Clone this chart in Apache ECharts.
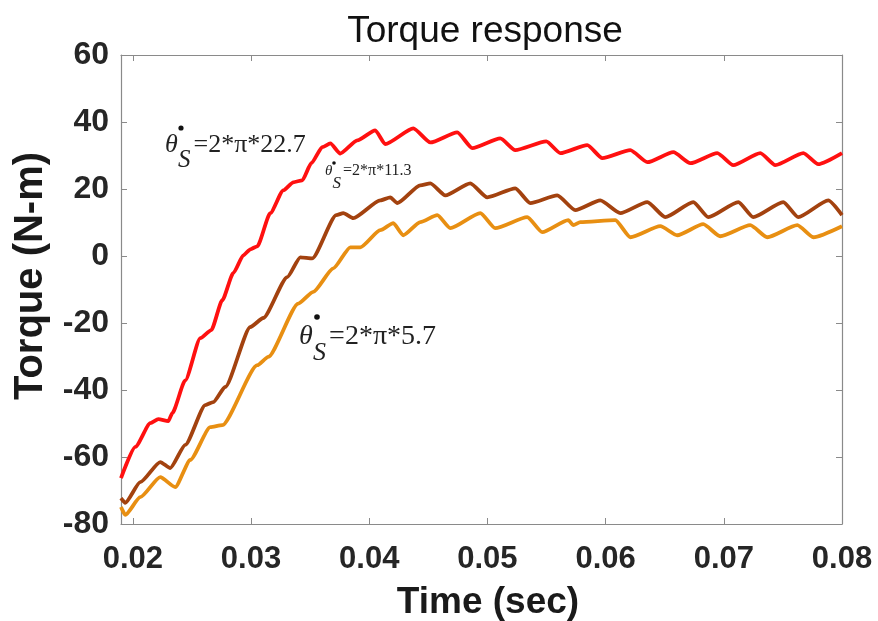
<!DOCTYPE html>
<html>
<head>
<meta charset="utf-8">
<script src="https://cdn.jsdelivr.net/npm/echarts@6/dist/echarts.min.js"></script>
<style>html,body{margin:0;padding:0;background:#fff}#chart{width:878px;height:621px}</style>
</head>
<body>
<div id="chart"></div>
<script>
// ---- data (time in s, torque in N-m) ----
const redT = [0.01900,0.02021,0.02148,0.02216,0.02300,0.02334,0.02444,0.02571,0.02664,0.02757,0.02850,0.02935,0.02994,0.03053,0.03163,0.03273,0.03358,0.03434,0.03510,0.03603,0.03671,0.03755,0.03899,0.04051,0.04136,0.04373,0.04517,0.04745,0.04872,0.05109,0.05236,0.05498,0.05617,0.05845,0.05972,0.06209,0.06353,0.06573,0.06717,0.06945,0.07080,0.07309,0.07436,0.07673,0.07799,0.08000];
const redV = [-66.3,-57.0,-49.9,-48.7,-49.3,-46.9,-37.1,-24.5,-22.1,-13.2,-5.1,0.2,2.0,2.9,12.8,19.6,22.0,22.6,27.7,32.5,33.6,30.6,34.5,37.5,33.4,38.1,33.9,36.9,32.2,35.1,31.6,34.2,30.7,33.1,29.2,31.6,28.0,31.0,27.7,30.7,27.1,30.7,27.1,30.7,27.4,30.7];

const brownT = [0.01900,0.01936,0.02063,0.02232,0.02317,0.02444,0.02613,0.02681,0.02782,0.02994,0.03104,0.03307,0.03417,0.03518,0.03721,0.03781,0.03865,0.04094,0.04178,0.04238,0.04432,0.04517,0.04644,0.04855,0.04999,0.05236,0.05363,0.05591,0.05743,0.05955,0.06124,0.06353,0.06505,0.06742,0.06869,0.07123,0.07249,0.07503,0.07630,0.07884,0.08000];
const brownV = [-72.3,-73.7,-67.5,-61.5,-63.3,-56.4,-44.5,-43.6,-39.1,-21.2,-18.5,-6.3,-0.4,-0.7,12.2,12.8,11.3,16.6,17.5,15.8,21.1,21.7,18.1,21.7,17.5,20.2,15.8,18.1,13.7,16.6,12.8,16.1,11.6,16.1,11.6,16.1,11.6,16.1,11.6,16.6,12.2];

const orangeT = [0.01900,0.01936,0.02063,0.02232,0.02359,0.02486,0.02655,0.02757,0.03053,0.03146,0.03400,0.03527,0.03696,0.03840,0.03925,0.04094,0.04204,0.04288,0.04432,0.04576,0.04686,0.04940,0.05066,0.05337,0.05464,0.05684,0.05727,0.05786,0.06082,0.06209,0.06463,0.06606,0.06826,0.06970,0.07224,0.07368,0.07622,0.07757,0.08000];
const orangeV = [-74.9,-77.3,-72.0,-66.0,-69.0,-60.9,-51.1,-50.5,-32.6,-30.1,-14.2,-10.7,-3.7,2.6,2.6,7.7,9.8,6.2,10.1,12.2,8.3,12.8,8.3,11.6,7.1,10.7,9.2,10.1,10.7,5.6,8.9,6.2,9.5,5.9,9.2,5.6,9.2,5.6,8.9];

const xTicks = [0.02,0.03,0.04,0.05,0.06,0.07,0.08];
const yTicks = [-80,-60,-40,-20,0,20,40,60];

const zip = (t, v) => t.map((x, i) => [x, v[i]]);

const AX = '#8a8a8a';
const LBL = '#262626';
const sans = 'Liberation Sans, Arial, sans-serif';
const serif = 'Liberation Serif, Times New Roman, serif';

function xAxisDef(pos, showLabels) {
  return {
    type: 'value', position: pos, min: 0.019, max: 0.08,
    axisLine: { show: true, onZero: false, lineStyle: { color: AX, width: 1.2 } },
    axisTick: { show: true, inside: true, length: 6, customValues: xTicks, lineStyle: { color: AX } },
    axisLabel: { show: showLabels, customValues: xTicks, margin: 20, color: LBL, fontFamily: sans, fontWeight: 'bold', fontSize: 31,
      formatter: v => v.toFixed(2) },
    splitLine: { show: false }
  };
}
function yAxisDef(pos, showLabels) {
  return {
    type: 'value', position: pos, min: -80, max: 60, interval: 20,
    axisLine: { show: true, onZero: false, lineStyle: { color: AX, width: 1.2 } },
    axisTick: { show: true, inside: true, length: 6, lineStyle: { color: AX } },
    axisLabel: { show: showLabels, margin: 12, color: LBL, fontFamily: sans, fontWeight: 'bold', fontSize: 32,
      formatter: v => String(yTicks[yTicks.indexOf(v)] ?? v) },
    splitLine: { show: false }
  };
}

function label(x, y, sym, sub, rest, fs, subFs, restFs, subDy, dot) {
  return [
    { type: 'text', x: x, y: y, style: { text: sym, font: 'italic ' + fs + 'px ' + serif, fill: '#222', verticalAlign: 'middle' } },
    { type: 'circle', shape: { cx: dot[0], cy: dot[1], r: dot[2] }, style: { fill: '#111' } },
    { type: 'text', x: x + fs * 0.5, y: y + subDy, style: { text: sub, font: 'italic ' + subFs + 'px ' + serif, fill: '#222', verticalAlign: 'middle' } },
    { type: 'text', x: x + fs * 0.5 + subFs * 0.62, y: y, style: { text: rest, font: restFs + 'px ' + serif, fill: '#222', verticalAlign: 'middle' } }
  ];
}

const lineCommon = { type: 'line', showSymbol: false, smooth: 0.2, smoothMonotone: 'x', z: 3 };

const chart = echarts.init(document.getElementById('chart'), null, { renderer: 'canvas' });
chart.setOption({
  animation: false,
  backgroundColor: '#fff',
  title: { text: 'Torque response', left: 480, top: 8, textAlign: 'center',
    textStyle: { fontFamily: sans, fontWeight: 'normal', fontSize: 37, color: '#111' } },
  grid: { left: 121, right: 36, top: 55, bottom: 97 },
  xAxis: [xAxisDef('bottom', true), xAxisDef('top', false)],
  yAxis: [yAxisDef('left', true), yAxisDef('right', false)],
  series: [
    Object.assign({ name: 'red', data: zip(redT, redV), lineStyle: { color: '#ff1010', width: 3.8 } }, lineCommon),
    Object.assign({ name: 'brown', data: zip(brownT, brownV), lineStyle: { color: '#a3420f', width: 3.8 } }, lineCommon),
    Object.assign({ name: 'orange', data: zip(orangeT, orangeV), lineStyle: { color: '#e88f12', width: 3.8 } }, lineCommon)
  ],
  graphic: [
    { type: 'text', x: 488, y: 603, style: { text: 'Time (sec)', font: 'bold 37px ' + sans, fill: '#1a1a1a', align: 'center', verticalAlign: 'middle' } },
    { type: 'text', x: 31, y: 276, rotation: Math.PI / 2, style: { text: 'Torque (N-m)', font: 'bold 40px ' + sans, fill: '#1a1a1a', align: 'center', verticalAlign: 'middle' } },
    ...label(165, 145, 'θ', 'S', '=2*π*22.7', 26, 25, 26, 15, [181, 128, 2.6]),
    ...label(325, 171, 'θ', 'S', '=2*π*11.3', 15, 17, 16, 13, [334, 163, 1.8]),
    ...label(299, 337, 'θ', 'S', '=2*π*5.7', 28, 26, 28, 16, [317, 317, 2.8])
  ]
});
</script>
</body>
</html>
